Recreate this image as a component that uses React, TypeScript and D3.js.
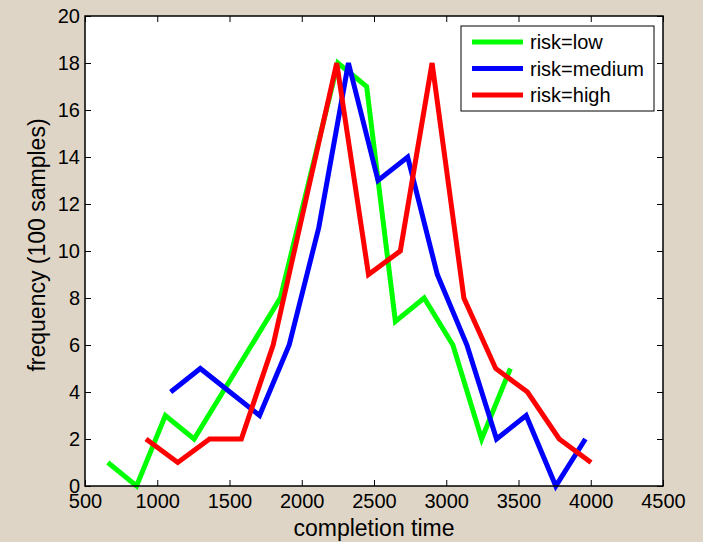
import { useEffect, useRef } from "react";
import * as d3 from "d3";

// completion-time bins and frequencies
const lowTimes = [658, 857, 1056, 1255, 1454, 1653, 1852, 2051, 2250, 2449, 2648, 2847, 3046, 3245, 3444];
const lowFreq = [1, 0, 3, 2, 4, 6, 8, 13, 18, 17, 7, 8, 6, 2, 5];

const mediumTimes = [1093, 1298, 1503, 1708, 1913, 2118, 2323, 2528, 2733, 2938, 3143, 3348, 3553, 3758, 3963];
const mediumFreq = [4, 5, 4, 3, 6, 11, 18, 13, 14, 9, 6, 2, 3, 0, 2];

const highTimes = [922, 1142, 1362, 1582, 1802, 2022, 2242, 2462, 2682, 2902, 3122, 3342, 3562, 3782, 4002];
const highFreq = [2, 1, 2, 2, 6, 12, 18, 9, 10, 18, 8, 5, 4, 2, 1];

const xTicks = [500, 1000, 1500, 2000, 2500, 3000, 3500, 4000, 4500];
const yTicks = [0, 2, 4, 6, 8, 10, 12, 14, 16, 18, 20];

const seriesNames = ["risk=low", "risk=medium", "risk=high"];
const seriesColors = ["#00ff00", "#0000ff", "#ff0000"];

const FONT = "'Liberation Sans', Arial, sans-serif";

function App() {
  const ref = useRef<SVGSVGElement | null>(null);

  useEffect(() => {
    const W = 703,
      H = 542;
    const margin = { top: 16, right: 40, bottom: 56, left: 85 };
    const width = W - margin.left - margin.right,
      height = H - margin.top - margin.bottom;

    const root = d3.select(ref.current);
    root.selectAll("*").remove();

    root.append("rect").attr("width", W).attr("height", H).attr("fill", "#dfd5c6");

    const svg = root
      .append("g")
      .attr("transform", `translate(${margin.left}, ${margin.top})`);

    const x = d3.scaleLinear().domain([500, 4500]).range([0, width]);
    const y = d3.scaleLinear().domain([0, 20]).range([height, 0]);

    svg
      .append("rect")
      .attr("width", width)
      .attr("height", height)
      .attr("fill", "#fff");

    // axes, matlab style: ticks inside on all four sides
    const styleAxis = (g: any) => {
      g.select(".domain").remove();
      g.selectAll(".tick line").attr("stroke", "#000").attr("stroke-width", 1);
      g.selectAll("text")
        .attr("fill", "#000")
        .style("font-family", FONT)
        .style("font-size", "20px");
    };
    const fmt = d3.format("d");

    svg
      .append("g")
      .attr("transform", `translate(0, ${height})`)
      .call(
        d3.axisBottom(x).tickValues(xTicks).tickFormat(fmt).tickSizeInner(-6).tickSizeOuter(0).tickPadding(8)
      )
      .call(styleAxis);
    svg
      .append("g")
      .call(d3.axisTop(x).tickValues(xTicks).tickSizeInner(-6).tickSizeOuter(0).tickFormat(() => ""))
      .call(styleAxis);
    svg
      .append("g")
      .call(
        d3.axisLeft(y).tickValues(yTicks).tickFormat(fmt).tickSizeInner(-6).tickSizeOuter(0).tickPadding(5)
      )
      .call(styleAxis);
    svg
      .append("g")
      .attr("transform", `translate(${width}, 0)`)
      .call(d3.axisRight(y).tickValues(yTicks).tickSizeInner(-6).tickSizeOuter(0).tickFormat(() => ""))
      .call(styleAxis);

    // Lines
    const line = d3
      .line<[number, number]>()
      .x((d) => x(d[0]))
      .y((d) => y(d[1]));

    const series = [
      d3.zip(lowTimes, lowFreq),
      d3.zip(mediumTimes, mediumFreq),
      d3.zip(highTimes, highFreq),
    ] as [number, number][][];

    series.forEach((pts, i) => {
      svg
        .append("path")
        .attr("d", line(pts))
        .attr("fill", "none")
        .attr("stroke", seriesColors[i])
        .attr("stroke-width", 5);
    });

    // box
    svg
      .append("rect")
      .attr("width", width)
      .attr("height", height)
      .attr("fill", "none")
      .attr("stroke", "#000")
      .attr("stroke-width", 1.5);

    // axis labels
    svg
      .append("text")
      .attr("x", width / 2)
      .attr("y", height + 50)
      .attr("text-anchor", "middle")
      .style("font-family", FONT)
      .style("font-size", "23px")
      .text("completion time");
    svg
      .append("text")
      .attr("transform", `translate(${45 - margin.left}, ${height / 2 - 6}) rotate(-90)`)
      .attr("text-anchor", "middle")
      .style("font-family", FONT)
      .style("font-size", "23px")
      .text("frequency (100 samples)");

    // legend
    const lg = svg.append("g").attr("transform", `translate(${461 - margin.left}, ${26 - margin.top})`);
    lg.append("rect")
      .attr("width", 193)
      .attr("height", 85)
      .attr("fill", "#fff")
      .attr("stroke", "#000")
      .attr("stroke-width", 1);
    seriesNames.forEach((name, i) => {
      const ly = 16 + i * 26.5;
      lg.append("line")
        .attr("x1", 11)
        .attr("x2", 62)
        .attr("y1", ly)
        .attr("y2", ly)
        .attr("stroke", seriesColors[i])
        .attr("stroke-width", 5);
      lg.append("text")
        .attr("x", 69)
        .attr("y", ly)
        .attr("dy", ".35em")
        .style("font-family", FONT)
        .style("font-size", "20px")
        .text(name);
    });
  }, []);

  return (
    <svg
      ref={ref}
      width={703}
      height={542}
      style={{ position: "absolute", left: 0, top: 0, display: "block" }}
    />
  );
}

export default App;
